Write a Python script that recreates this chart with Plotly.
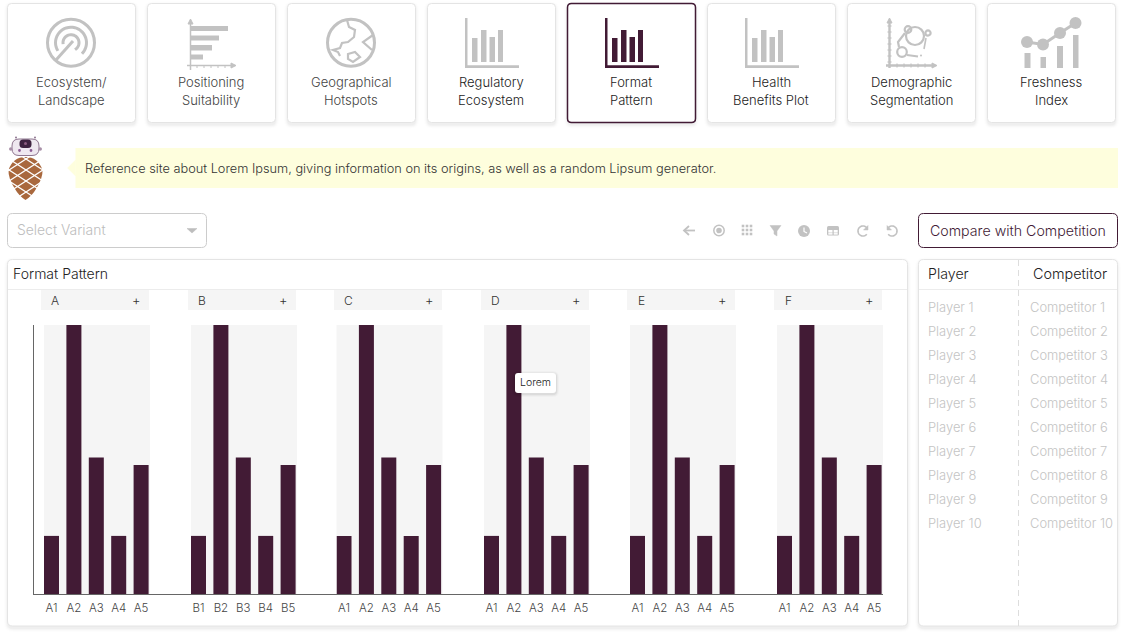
import plotly.graph_objects as go
import math

# ---------- data ----------
facet_names = ["A", "B", "C", "D", "E", "F"]
facet_categories = [
    ["A1", "A2", "A3", "A4", "A5"],
    ["B1", "B2", "B3", "B4", "B5"],
    ["A1", "A2", "A3", "A4", "A5"],
    ["A1", "A2", "A3", "A4", "A5"],
    ["A1", "A2", "A3", "A4", "A5"],
    ["A1", "A2", "A3", "A4", "A5"],
]
values_a = [21.6, 100, 50.7, 21.6, 48]
values_b = [21.6, 100, 50.7, 21.6, 48]
values_c = [21.6, 100, 50.7, 21.6, 48]
values_d = [21.6, 100, 50.7, 21.6, 48]
values_e = [21.6, 100, 50.7, 21.6, 48]
values_f = [21.6, 100, 50.7, 21.6, 48]
card_line1 = ["Ecosystem/", "Positioning", "Geographical", "Regulatory", "Format", "Health", "Demographic", "Freshness"]
card_line2 = ["Landscape", "Suitability", "Hotspots", "Ecosystem", "Pattern", "Benefits Plot", "Segmentation", "Index"]
players = ["Player %d" % i for i in range(1, 11)]
competitors = ["Competitor %d" % i for i in range(1, 11)]
callout_text = "Reference site about Lorem Ipsum, giving information on its origins, as well as a random Lipsum generator."

# ---------- style / layout ----------
W, H = 1128, 636
FONT = "Inter"
WEIGHT = 300
BAR = "#421b35"
GREY = "#c2c2c2"
PANEL_LEFT = [44, 191, 336.5, 484, 630, 777]
PANEL_W = 106
HEADER_LEFT = [41, 188, 334, 481, 627, 774]
PLOT_TOP, PLOT_BOTTOM = 325, 594

shapes, annos = [], []


def shape(path=None, fill=None, line=None, lw=1, above=False, dash=None, **kw):
    d = dict(xref="x", yref="y", layer="above" if above else "below",
             fillcolor=fill or "rgba(0,0,0,0)",
             line=dict(color=line or "rgba(0,0,0,0)", width=lw if line else 0))
    if dash:
        d["line"]["dash"] = dash
    if path:
        d.update(type="path", path=path)
    d.update(kw)
    shapes.append(d)


def rrect_path(x0, y0, x1, y1, r):
    return (f"M{x0+r},{y0} L{x1-r},{y0} Q{x1},{y0} {x1},{y0+r} L{x1},{y1-r} Q{x1},{y1} {x1-r},{y1} "
            f"L{x0+r},{y1} Q{x0},{y1} {x0},{y1-r} L{x0},{y0+r} Q{x0},{y0} {x0+r},{y0} Z")


def rrect(x0, y0, x1, y1, r=4, fill=None, line=None, lw=1, above=False):
    shape(rrect_path(x0, y0, x1, y1, r), fill, line, lw, above)


def rect(x0, y0, x1, y1, fill):
    shape(f"M{x0},{y0} L{x1},{y0} L{x1},{y1} L{x0},{y1} Z", fill)


def seg(pts, color=GREY, lw=2, close=False, fill=None, above=False):
    p = "M" + " L".join(f"{x},{y}" for x, y in pts) + (" Z" if close else "")
    shape(p, fill, color, lw, above)


def circle(cx, cy, r, fill=None, line=None, lw=1):
    shape(fill=fill, line=line, lw=lw, type="circle", x0=cx-r, x1=cx+r, y0=cy-r, y1=cy+r)


def arc(cx, cy, r, a0, a1, color=GREY, lw=3):
    n = max(6, int(abs(a1-a0)/8))
    pts = [(cx+r*math.cos(math.radians(a0+(a1-a0)*i/n)), cy+r*math.sin(math.radians(a0+(a1-a0)*i/n))) for i in range(n+1)]
    seg(pts, color, lw)


def text(x, y, s, size=13, color="#333", anchor="left"):
    annos.append(dict(x=x, y=y-0.2, xref="x", yref="y", text=s, showarrow=False, xanchor=anchor, yanchor="middle",
                      font=dict(family=FONT, size=size, color=color, weight=WEIGHT), borderpad=0, borderwidth=0))


def soft_panel(x0, y0, x1, y1, r=5, fill="white", border="#e4e4e4", lw=1, above=False):
    for grow, alpha in ((4, .008), (3, .012), (2, .018), (1, .025)):
        rrect(x0-grow+.5, y0-grow+2, x1+grow-.5, y1+grow+2, r+grow, fill=f"rgba(0,0,0,{alpha})", above=above)
    rrect(x0, y0, x1, y1, r, fill=fill, line=border, lw=lw, above=above)


def bar_icon(dx, c):
    rect(465+dx, 18, 467.5+dx, 68, c)
    rect(465+dx, 65.3, 519+dx, 68, c)
    for x0, x1, top in ((472, 477.5, 38), (481, 486.5, 30), (489.5, 495, 37), (498, 503, 30)):
        rect(x0+dx, top, x1+dx, 62, c)


# ---------- cards ----------
for i in range(8):
    x0 = 7.5 + 140*i
    active = i == 4
    soft_panel(x0, 3.5, x0+128, 122.5, r=4, border=BAR if active else "#e4e4e4", lw=1.5 if active else 1)
    col = "#444444" if i < 3 else "#1c1c1c"
    text(x0+63.5, 82, card_line1[i], 13, col, "center")
    text(x0+63.5, 100, card_line2[i], 13, col, "center")

# Ecosystem icon
circle(71, 42.7, 23.5, line=GREY, lw=3)
arc(71, 42.7, 15.5, 45, -212, lw=3)
arc(71, 42.7, 8, 60, -190, lw=3)
seg([(73, 41), (56, 60)], lw=3)

# Positioning icon
seg([(190.5, 23), (190.5, 70)], lw=1.5)
seg([(187, 65.5), (234, 65.5)], lw=1.5)
seg([(188, 24), (190.5, 19), (193, 24)], close=True, fill=GREY, lw=1)
seg([(231, 63), (236, 65.5), (231, 68)], close=True, fill=GREY, lw=1)
for y0, y1, x1 in ((26, 31, 228), (35.5, 40.5, 219), (45, 50.5, 212), (54.5, 59.5, 203)):
    rect(190.5, y0, x1, y1, GREY)
for x in (197, 204, 211, 218, 225):
    seg([(x, 65), (x, 68)], lw=1)

# Geography icon
circle(351, 42.7, 23.5, line=GREY, lw=3)
seg([(347, 20), (349, 27), (355, 30), (354, 37), (348, 42), (342, 43), (340, 48), (333, 50), (338, 52), (340, 56)], lw=2.2)
seg([(373, 35), (363, 42), (372, 50)], lw=2.2)
seg([(348, 54), (355, 52), (360, 57), (353, 62), (348, 59)], close=True, lw=2.2)

# Bar icons
bar_icon(0, GREY)
bar_icon(140, BAR)
bar_icon(280, GREY)

# Demographic icon
seg([(889.5, 21), (889.5, 68)], lw=2.4)
seg([(886, 65.5), (935, 65.5)], lw=2.4)
seg([(887, 23), (889.5, 18), (892, 23)], close=True, fill=GREY, lw=1)
seg([(932, 63), (937, 65.5), (932, 68)], close=True, fill=GREY, lw=1)
for y in (26, 32, 38, 44, 50, 56, 62):
    seg([(887.5, y), (891.5, y)], lw=1.2)
for x in (897, 904, 911, 918, 925):
    seg([(x, 63.5), (x, 67.5)], lw=1.2)
circle(915, 36, 9, line=GREY, lw=2.2)
circle(908, 29.5, 3.3, line=GREY, lw=2.2)
circle(928, 33, 2.6, line=GREY, lw=2.2)
circle(902, 52, 4.8, line=GREY, lw=2.2)
seg([(905, 33), (898, 42), (899, 47)], lw=2.2)
seg([(907, 55), (918, 56.5)], lw=2.2)
circle(921, 55.5, 1, fill=GREY)
seg([(926, 38), (924, 49)], lw=1.6)

# Freshness icon
seg([(1027, 42), (1043, 44.5), (1060, 33), (1075.5, 23)], lw=3)
for cx, cy, r in ((1027, 42, 6), (1043, 44.5, 6), (1060, 33, 6), (1075.5, 23, 6)):
    circle(cx, cy, r, fill=GREY)
for x0, x1, top in ((1024.5, 1030.5, 53), (1040.5, 1046, 57), (1057, 1063, 46), (1073, 1078.5, 35)):
    rect(x0, top, x1, 68, GREY)

# ---------- mascot ----------
CONE = "#a9683d"
shape("M25.5,157 Q38,157 42.5,170 Q43,178 36,189 Q32,196 25.5,200 Q19,196 15,189 Q8,178 8.5,170 Q13,157 25.5,157 Z", CONE)
for c in (148, 159, 170, 181, 192, 203, 214):
    seg([(6, c-13), (46, c+13)], color="#ffffff", lw=1.4)
    seg([(6, c+13), (46, c-13)], color="#ffffff", lw=1.4)
rect(6, 154, 46, 157, "white")
rrect(12, 139, 39, 155.5, 7, fill="#efe8f0", line="#8f7690", lw=1)
circle(10.8, 149, 1.8, fill="#a890a8")
circle(40.2, 149, 1.8, fill="#a890a8")
circle(16, 137.5, 1, fill="#8f7690")
circle(35, 137.5, 1, fill="#8f7690")
rrect(19.5, 139.5, 31.5, 148, 3.5, fill="#3f2340")
circle(25.5, 143.5, 1.5, fill="#8d5c80")
circle(19.5, 150.5, 1.4, fill="#8a5b94")
circle(31, 150.5, 1.4, fill="#8a5b94")

# ---------- callout ----------
rect(75.5, 148, 1118, 188, "#fefedd")
seg([(75.5, 160), (67.5, 168), (75.5, 176)], close=True, fill="#fefedd", color="#fefedd", lw=0.5)
text(85, 169, callout_text, 12.78, "#333")

# ---------- controls ----------
rrect(7.5, 213.5, 206.5, 247.5, 5, fill="white", line="#cccccc")
text(17, 230.5, "Select Variant", 13.9, "#bdbdbd")
seg([(187, 228.5), (197, 228.5), (192, 233)], close=True, fill="#bdbdbd", color="#bdbdbd", lw=0.5)
rrect(918.5, 213.5, 1117.5, 247.5, 5, fill="white", line=BAR)
text(1018, 230.5, "Compare with Competition", 14.2, BAR, "center")

# toolbar icons
seg([(684, 230.5), (695, 230.5)], lw=1.8)
seg([(689, 226), (684, 230.5), (689, 235)], lw=1.8)
circle(719, 230.5, 5.2, line=GREY, lw=1.5)
circle(719, 230.5, 2.8, fill=GREY)
for ix in (-4, 0, 4):
    for iy in (-4, 0, 4):
        rect(747+ix-1.3, 230+iy-1.3, 747+ix+1.3, 230+iy+1.3, GREY)
seg([(770, 225.5), (781, 225.5), (777, 231), (777, 236), (774, 234), (774, 231)], close=True, fill=GREY, color=GREY, lw=0.5)
circle(804, 231, 6, fill=GREY)
seg([(804, 227.5), (804, 231.5), (807, 233)], color="white", lw=1.2)
rrect(827, 226, 839, 235.5, 1.5, fill=GREY)
rect(828.3, 230, 832.5, 232.6, "white"); rect(833.7, 230, 837.7, 232.6, "white")
rect(828.3, 233.1, 832.5, 234.6, "white"); rect(833.7, 233.1, 837.7, 234.6, "white")
arc(863, 231, 5, -40, -320, lw=1.6)
seg([(868, 225.5), (868, 230), (863.5, 230)], close=True, fill=GREY, color=GREY, lw=0.5)
arc(892, 231, 5, -140, 140, lw=1.6)
seg([(887, 225.5), (887, 230), (891.5, 230)], close=True, fill=GREY, color=GREY, lw=0.5)

# ---------- main panel ----------
soft_panel(7.5, 259.5, 907.5, 626, r=5)
seg([(8, 289.5), (907, 289.5)], color="#ececec", lw=1)
text(13, 273.5, "Format Pattern", 14, "#222")
for name, hx in zip(facet_names, HEADER_LEFT):
    rect(hx, 290, hx+108, 310, "#f5f5f5")
    text(hx+14, 301, name, 12, "#333", "center")
    text(hx+95, 300.5, "+", 13, "#333", "center")
for left in PANEL_LEFT:
    rect(left, PLOT_TOP, left+PANEL_W, PLOT_BOTTOM, "#f5f5f5")

# right panel
soft_panel(918.5, 259.5, 1117.5, 626, r=5)
seg([(919, 289.5), (1117, 289.5)], color="#ececec", lw=1)
shape("M1018.5,260 L1018.5,626", None, "#dddddd", 1, dash="6px,4px")
text(928, 273.5, "Player", 14.2, "#222")
text(1033, 273.5, "Competitor", 14.4, "#222")
for i, (p, c) in enumerate(zip(players, competitors)):
    y = 308 + 24*i
    text(928, y, p, 12.9, "#c4c4c4")
    text(1030, y, c, 12.9, "#c4c4c4")

# chart axis lines
seg([(33.5, 325), (33.5, 594.5)], color="#666666", lw=1)
seg([(33, 594.5), (883, 594.5)], color="#666666", lw=1)

# tooltip
for g, a in ((3, .02), (2, .03), (1, .05)):
    rrect(515-g, 373-g+1, 556+g, 393+g+1, 3+g, fill=f"rgba(0,0,0,{a})", above=True)
rrect(515, 373, 556, 393, 3, fill="white", above=True)
text(535.5, 382.5, "Lorem", 10.5, "#222", "center")

# ---------- figure ----------
fig = go.Figure()
# first subplot is a 1:1 pixel canvas that carries the surrounding page furniture
fig.add_trace(go.Scatter(x=[0], y=[0], xaxis="x", yaxis="y", mode="markers",
                         marker=dict(size=1, opacity=0), hoverinfo="skip", showlegend=False))
all_values = [values_a, values_b, values_c, values_d, values_e, values_f]
layout_axes = {
    "xaxis": dict(range=[0, W], domain=[0, 1], visible=False, fixedrange=True),
    "yaxis": dict(range=[H, 0], domain=[0, 1], visible=False, fixedrange=True),
}
for i, (cats, vals, left) in enumerate(zip(facet_categories, all_values, PANEL_LEFT)):
    n = i + 2
    fig.add_trace(go.Bar(x=cats, y=vals, xaxis=f"x{n}", yaxis=f"y{n}", width=0.67,
                         marker=dict(color=BAR, line=dict(width=0)), showlegend=False,
                         hovertemplate="%{x}: %{y}<extra></extra>"))
    layout_axes[f"xaxis{n}"] = dict(
        domain=[left/W, (left+PANEL_W)/W], anchor=f"y{n}", type="category",
        categoryorder="array", categoryarray=cats, range=[-0.335, 4.397],
        showgrid=False, zeroline=False, showline=False, ticks="", ticklabelstandoff=5,
        tickfont=dict(family=FONT, size=11.5, color="#444444", weight=WEIGHT), fixedrange=True)
    layout_axes[f"yaxis{n}"] = dict(
        domain=[1-PLOT_BOTTOM/H, 1-PLOT_TOP/H], anchor=f"x{n}", range=[0, 100],
        visible=False, fixedrange=True)

fig.update_layout(width=W, height=H, margin=dict(l=0, r=0, t=0, b=0), autosize=False,
                  paper_bgcolor="white", plot_bgcolor="rgba(0,0,0,0)", showlegend=False,
                  shapes=shapes, annotations=annos, **layout_axes)
fig.write_html("out.html", config=dict(displayModeBar=False),
               post_script="document.body.style.margin='0';document.documentElement.style.overflow='hidden';")
